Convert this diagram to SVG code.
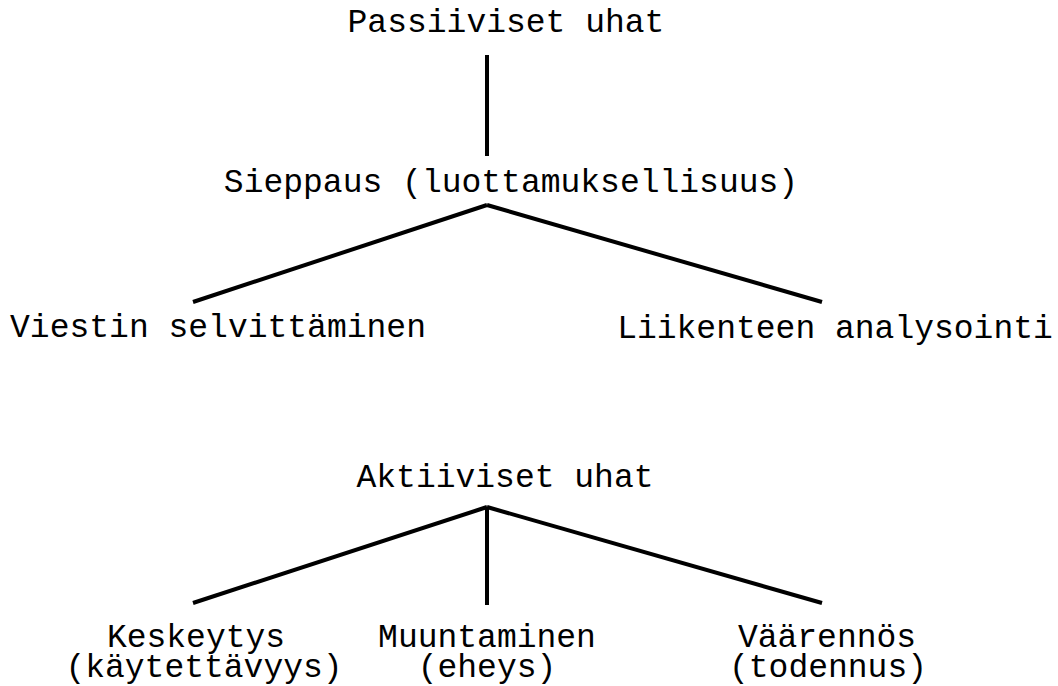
<svg xmlns="http://www.w3.org/2000/svg" width="1058" height="686" viewBox="0 0 1058 686">
  <style>
    .lbl { font-family: "Liberation Mono", "Courier New", monospace; font-size: 33px; fill: #000; text-anchor: middle; }
    .edge { stroke: #000; stroke-width: 4; fill: none; stroke-linecap: butt; }
  </style>
  <rect width="1058" height="686" fill="#fff"/>
  <g id="connectors">
    <line class="edge" x1="487" y1="55" x2="487" y2="156"/>
    <line class="edge" x1="487" y1="205" x2="193" y2="302"/>
    <line class="edge" x1="487" y1="205" x2="822" y2="302"/>
    <line class="edge" x1="487" y1="507" x2="193" y2="603"/>
    <line class="edge" x1="487" y1="507" x2="487" y2="605"/>
    <line class="edge" x1="487" y1="507" x2="822" y2="603"/>
  </g>
  <g id="passiiviset"><text class="lbl" x="506" y="32">Passiiviset uhat</text></g>
  <g id="sieppaus"><text class="lbl" x="511" y="192">Sieppaus (luottamuksellisuus)</text></g>
  <g id="viestin"><text class="lbl" x="218" y="337">Viestin selvittäminen</text></g>
  <g id="liikenteen"><text class="lbl" x="835" y="338">Liikenteen analysointi</text></g>
  <g id="aktiiviset"><text class="lbl" x="505" y="487">Aktiiviset uhat</text></g>
  <g id="keskeytys">
    <text class="lbl"><tspan x="196" y="647">Keskeytys</tspan><tspan x="204" y="677">(käytettävyys)</tspan></text>
  </g>
  <g id="muuntaminen">
    <text class="lbl"><tspan x="487" y="647">Muuntaminen</tspan><tspan x="487" y="677">(eheys)</tspan></text>
  </g>
  <g id="vaarennos">
    <text class="lbl"><tspan x="827" y="647">Väärennös</tspan><tspan x="828" y="677">(todennus)</tspan></text>
  </g>
</svg>
